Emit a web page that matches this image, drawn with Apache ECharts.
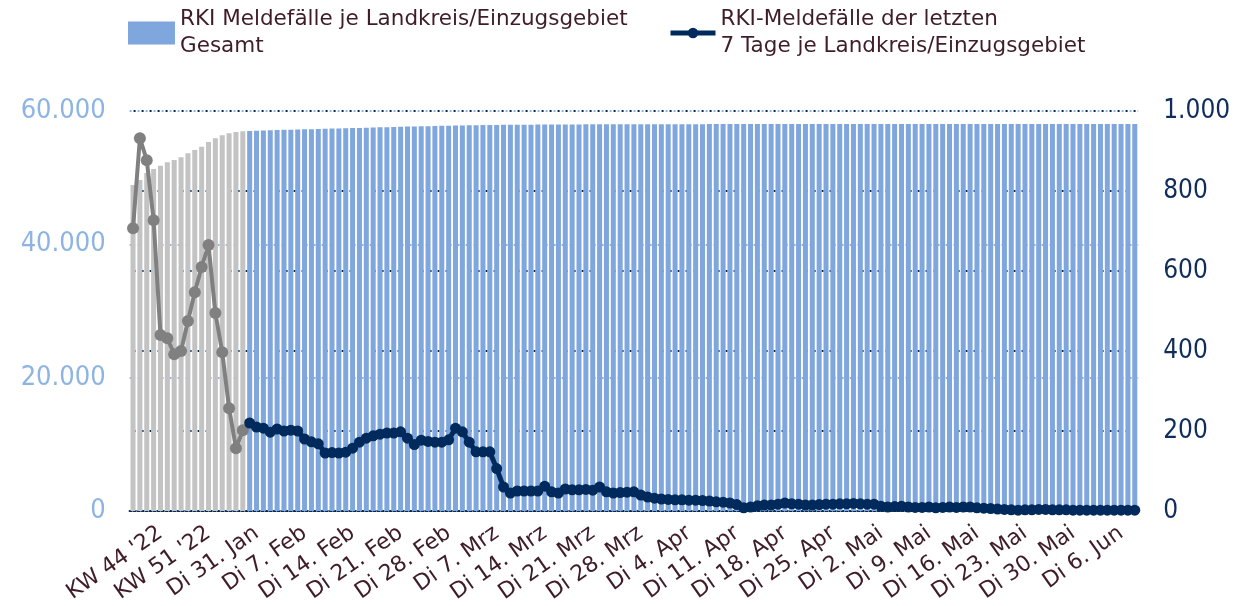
<!DOCTYPE html>
<html>
<head>
<meta charset="utf-8">
<script src="https://cdn.jsdelivr.net/npm/echarts@6/dist/echarts.min.js"></script>
<style>
  html, body { margin: 0; padding: 0; background: #fff; }
  #chart { width: 1240px; height: 606px; }
</style>
</head>
<body>
<div id="chart"></div>
<script>
// weekly part: KW 40 '22 .. KW 4 '23
const weekLabels = ['KW 40 \'22', 'KW 41 \'22', 'KW 42 \'22', 'KW 43 \'22', 'KW 44 \'22', 'KW 45 \'22',
  'KW 46 \'22', 'KW 47 \'22', 'KW 48 \'22', 'KW 49 \'22', 'KW 50 \'22', 'KW 51 \'22', 'KW 52 \'22',
  'KW 1 \'23', 'KW 2 \'23', 'KW 3 \'23', 'KW 4 \'23']
const weeklyTotal = [48900, 49650, 50700, 51300, 51800, 52300, 52650, 53050, 53650, 54150,
  54650, 55350, 55900, 56350, 56650, 56850, 56950]
const weeklyCases = [707, 932, 877, 727, 440, 432, 392, 400, 475, 547, 610, 665, 495, 397, 257, 157, 202]

// daily part: Mo 30. Jan 2023 .. Do 8. Jun 2023
const dayNames = ['So', 'Mo', 'Di', 'Mi', 'Do', 'Fr', 'Sa']
const monthNames = ['Jan', 'Feb', 'Mrz', 'Apr', 'Mai', 'Jun']
const dailyTotal = [
  57000, 57040, 57080, 57110, 57140, 57170, 57200,
  57230, 57250, 57270, 57300, 57330, 57360, 57390,
  57420, 57440, 57460, 57490, 57520, 57550, 57580,
  57600, 57630, 57660, 57690, 57710, 57730, 57750,
  57770, 57790, 57810, 57830, 57850, 57870, 57890,
  57900, 57915, 57925, 57935, 57945, 57950, 57955,
  57960, 57965, 57970, 57975, 57980, 57985, 57990,
  57995, 58000, 58000, 58005, 58005, 58010, 58010,
  58015, 58015, 58020, 58020, 58020, 58025, 58025,
  58025, 58030, 58030, 58030, 58035, 58035, 58035,
  58040, 58040, 58040, 58040, 58040, 58045, 58045,
  58045, 58045, 58045, 58045, 58050, 58050, 58050,
  58050, 58050, 58050, 58050, 58050, 58050, 58050,
  58050, 58050, 58050, 58050, 58050, 58055, 58055,
  58055, 58055, 58055, 58055, 58055, 58055, 58055,
  58055, 58055, 58055, 58055, 58055, 58055, 58055,
  58060, 58060, 58060, 58060, 58060, 58060, 58060,
  58060, 58060, 58060, 58060, 58060, 58060, 58060,
  58060, 58060, 58060, 58060
]
const dailyCases = [
  220, 210, 207, 197, 205, 200, 202,
  200, 180, 173, 168, 145, 146, 145,
  147, 157, 172, 182, 188, 192, 195,
  195, 198, 182, 166, 177, 174, 172,
  172, 178, 207, 198, 172, 148, 148,
  148, 106, 60, 45, 50, 50, 50,
  50, 62, 48, 45, 55, 53, 53,
  54, 52, 60, 48, 45, 46, 47,
  48, 40, 35, 32, 30, 29, 28,
  28, 27, 27, 26, 25, 23, 22,
  20, 16, 8, 10, 13, 15, 15,
  17, 20, 18, 17, 15, 15, 16,
  17, 17, 18, 18, 19, 18, 17,
  17, 12, 10, 11, 12, 10, 9,
  9, 10, 8, 9, 10, 9, 10,
  10, 8, 7, 6, 5, 4, 3,
  2, 3, 3, 4, 4, 3, 3,
  3, 2, 2, 2, 2, 2, 2,
  2, 2, 2, 2
]

const dayLabels = dailyCases.map((v, i) => {
  const d = new Date(Date.UTC(2023, 0, 30 + i))
  return dayNames[d.getUTCDay()] + ' ' + d.getUTCDate() + '. ' + monthNames[d.getUTCMonth()]
})
const categories = weekLabels.concat(dayLabels)

const nameTotal = 'RKI Meldefälle je Landkreis/Einzugsgebiet\nGesamt'
const name7d = 'RKI-Meldefälle der letzten\n7 Tage je Landkreis/Einzugsgebiet'

const blue = '#7fa6dd'
const grey = '#c3c3c3'
const navy = '#002a5c'
const textColor = '#3f1d28'

const barData = weeklyTotal.map(v => ({ value: v, itemStyle: { color: grey } }))
  .concat(dailyTotal)
const weekLine = weeklyCases.concat(dailyCases.map(() => null))
const dayLine = weeklyCases.map(() => null).concat(dailyCases)

const showTick = idx => idx % 7 === 4

const legendText = { color: textColor, fontSize: 21.5, lineHeight: 27, fontFamily: 'DejaVu Sans' }

const chart = echarts.init(document.getElementById('chart'))
chart.setOption({
  animation: false,
  backgroundColor: '#fff',
  legend: [{
    data: [nameTotal],
    left: 128,
    top: 6,
    padding: 0,
    icon: 'rect',
    itemWidth: 47,
    itemHeight: 23,
    itemGap: 0,
    textStyle: legendText
  }, {
    data: [name7d],
    left: 668,
    top: 6,
    padding: 0,
    itemWidth: 45,
    itemHeight: 13,
    lineStyle: { width: 5 },
    textStyle: legendText
  }],
  grid: { left: 129.6, right: 101.8, top: 111, bottom: 95 },
  xAxis: {
    type: 'category',
    data: categories,
    axisLine: { lineStyle: { color: navy, type: [2, 2], width: 2 } },
    axisTick: { interval: (i) => showTick(i), alignWithLabel: true, length: 6,
      lineStyle: { color: '#9a7d8c', width: 2 } },
    axisLabel: {
      interval: (i) => showTick(i),
      rotate: 35,
      margin: 20,
      color: textColor,
      fontSize: 22,
      fontFamily: 'DejaVu Sans'
    }
  },
  yAxis: [{
    type: 'value',
    min: 0, max: 60000, interval: 20000,
    axisLine: { show: false },
    axisTick: { show: false },
    axisLabel: {
      margin: 24,
      color: '#8db4e2',
      fontSize: 27,
      fontFamily: 'DejaVu Sans Condensed, Liberation Sans',
      formatter: v => v === 0 ? '0' : (v / 1000) + '.000'
    },
    splitLine: { lineStyle: { color: '#8db4e2', type: [2, 6], width: 2 } }
  }, {
    type: 'value',
    min: 0, max: 1000, interval: 200,
    axisLine: { show: false },
    axisTick: { show: false },
    axisLabel: {
      margin: 25,
      color: '#0f2d5a',
      fontSize: 26,
      fontFamily: 'DejaVu Sans Condensed, Liberation Sans',
      formatter: v => v === 1000 ? '1.000' : String(v)
    },
    splitLine: { lineStyle: { color: navy, type: [2, 6], width: 2, dashOffset: 4 } }
  }],
  series: [{
    name: nameTotal,
    type: 'bar',
    data: barData,
    barCategoryGap: '27%',
    itemStyle: { color: blue }
  }, {
    name: 'Wochenwerte',
    type: 'line',
    yAxisIndex: 1,
    data: weekLine,
    symbol: 'circle',
    symbolSize: 12,
    showAllSymbol: true,
    lineStyle: { color: '#808080', width: 4 },
    itemStyle: { color: '#808080' },
    z: 3
  }, {
    name: name7d,
    type: 'line',
    yAxisIndex: 1,
    data: dayLine,
    symbol: 'circle',
    symbolSize: 11,
    showAllSymbol: true,
    lineStyle: { color: navy, width: 5 },
    itemStyle: { color: navy },
    z: 4
  }]
})
</script>
</body>
</html>
